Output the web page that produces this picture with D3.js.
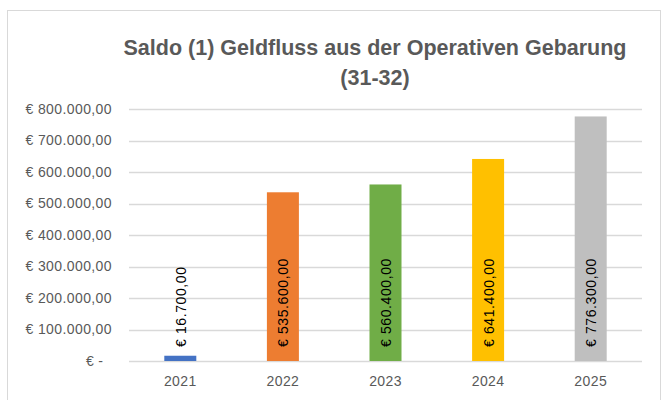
<!DOCTYPE html>
<html>
<head>
<meta charset="utf-8">
<script src="https://cdn.jsdelivr.net/npm/d3@7"></script>
<style>
  body { margin: 0; background: #fff; }
  svg { display: block; font-family: "Liberation Sans", Arial, sans-serif; }
  .tick text { fill: #595959; font-size: 14px; letter-spacing: 0.4px; white-space: pre; }
</style>
</head>
<body>
<svg id="chart" width="662" height="400"></svg>
<script>
// Saldo (1) Geldfluss aus der Operativen Gebarung
const years = ["2021", "2022", "2023", "2024", "2025"];
const saldo = [16700, 535600, 560400, 641400, 776300];
const barColours = ["#4472C4", "#ED7D31", "#70AD47", "#FFC000", "#BFBFBF"];
const yTicks = [0, 100000, 200000, 300000, 400000, 500000, 600000, 700000, 800000];

const svg = d3.select('#chart');

const plotLeft = 129, plotRight = 642, plotTop = 109, plotBottom = 361;

// chart frame
svg.append('rect')
    .attr('x', 7.5)
    .attr('y', 10.5)
    .attr('width', 653)
    .attr('height', 400)
    .attr('fill', 'none')
    .attr('stroke', '#D9D9D9');

const xScale = d3.scaleBand()
    .domain(years)
    .range([plotLeft, plotRight])
    .padding(0);

const yScale = d3.scaleLinear()
    .domain([0, 800000])
    .range([plotBottom, plotTop]);

const euro = v => {
    if (v === 0) return '€ -  ';
    return '€ ' + d3.format(',.2f')(v).replace(/,/g, '#').replace('.', ',').replace(/#/g, '.');
};

// grid
svg.append('g')
    .selectAll('line')
    .data(yTicks)
    .enter()
    .append('line')
    .attr('x1', plotLeft)
    .attr('x2', plotRight)
    .attr('y1', d => Math.round(yScale(d)) + 0.5)
    .attr('y2', d => Math.round(yScale(d)) + 0.5)
    .attr('stroke', '#D9D9D9')
    .attr('stroke-width', 1.3);

// y axis labels
const yAxis = svg.append('g')
    .attr('transform', `translate(${plotLeft}, 0)`)
    .call(d3.axisLeft(yScale).tickValues(yTicks).tickFormat(euro).tickSize(0).tickPadding(17));
yAxis.select('.domain').remove();

// x axis labels
const xAxis = svg.append('g')
    .attr('transform', `translate(0, ${plotBottom})`)
    .call(d3.axisBottom(xScale).tickSize(0).tickPadding(15));
xAxis.select('.domain').remove();

const barW = 32;
const rows = years.map((y, i) => ({ year: y, value: saldo[i], colour: barColours[i] }));

const bars = svg.append('g')
    .selectAll('g')
    .data(rows)
    .enter()
    .append('g');

bars.append('rect')
    .attr('x', d => xScale(d.year) + xScale.bandwidth() / 2 - barW / 2)
    .attr('y', d => yScale(d.value))
    .attr('width', barW)
    .attr('height', d => plotBottom - yScale(d.value))
    .attr('fill', d => d.colour);

bars.append('text')
    .attr('transform', d => `translate(${xScale(d.year) + xScale.bandwidth() / 2 + 0.5}, ${plotBottom - 14}) rotate(-90)`)
    .attr('dominant-baseline', 'central')
    .attr('font-size', 14)
    .attr('letter-spacing', 0.6)
    .attr('fill', '#000')
    .text(d => euro(d.value));

// title
svg.append('text')
    .attr('x', 375)
    .attr('y', 55)
    .attr('text-anchor', 'middle')
    .attr('font-size', 21.5)
    .attr('font-weight', 'bold')
    .attr('fill', '#595959')
    .text('Saldo (1) Geldfluss aus der Operativen Gebarung');

svg.append('text')
    .attr('x', 375)
    .attr('y', 85)
    .attr('text-anchor', 'middle')
    .attr('font-size', 21.5)
    .attr('font-weight', 'bold')
    .attr('fill', '#595959')
    .text('(31-32)');
</script>
</body>
</html>
